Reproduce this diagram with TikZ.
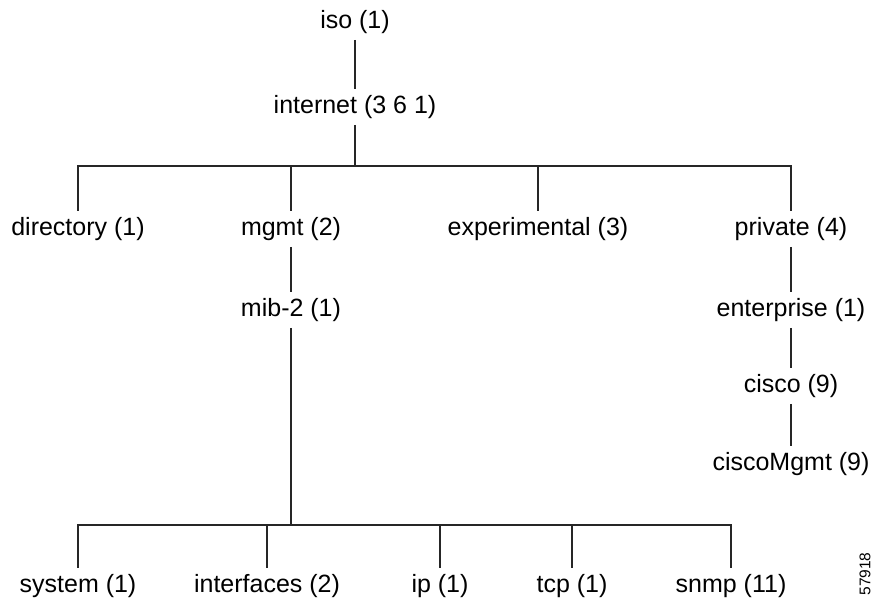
\documentclass[tikz,border=0pt]{standalone}
\usepackage{fontspec}
\setmainfont{Liberation Sans}
\usepackage{tikz}
\usetikzlibrary{positioning}
\tikzstyle{oid} = [font=\fontsize{25}{30}\selectfont, inner xsep=0pt, inner ysep=6pt]
\tikzstyle{branch} = [line width=1.1pt, color=black!85]
\tikzstyle{fig} = [font=\fontsize{15.5}{18}\selectfont, rotate=90, inner sep=0pt]

\begin{document}
\begin{tikzpicture}[x=1pt, y=-1pt]
\useasboundingbox (0,0) rectangle (875,599);

% Top of the tree
\node[oid] (iso) at (355,22) {iso (1)};
\node[oid] (inet) at (355,107) {internet (3 6 1)};

% Second level
\node[oid] (dir) at (78,229) {directory (1)};
\node[oid] (mgmt) at (291,229) {mgmt (2)};
\node[oid] (exp) at (538,229) {experimental (3)};
\node[oid] (priv) at (791,229) {private (4)};

% mgmt branch
\node[oid] (mib) at (291,310) {mib-2 (1)};

% private branch
\node[oid] (ent) at (791,310) {enterprise (1)};
\node[oid] (cisco) at (791,386) {cisco (9)};
\node[oid] (cmgmt) at (791,464) {ciscoMgmt (9)};

% mib-2 groups
\node[oid] (sys) at (78,586) {system (1)};
\node[oid] (ifc) at (267,586) {interfaces (2)};
\node[oid] (ip) at (440,586) {ip (1)};
\node[oid] (tcp) at (572,586) {tcp (1)};
\node[oid] (snmp) at (731,586) {snmp (11)};

\node[fig] (num) at (865,574) {57918};

% Bars
\coordinate (bar1) at (355,166);
\coordinate (bar2) at (291,525);

% Connectors
\draw[branch] (iso) -- (inet);
\draw[branch] (inet) -- (bar1);
\foreach \n in {dir,mgmt,exp,priv}
  \draw[branch] (bar1) -| (\n);
\draw[branch] (mgmt) -- (mib);
\draw[branch] (mib) -- (bar2);
\foreach \n in {sys,ifc,ip,tcp,snmp}
  \draw[branch] (bar2) -| (\n);
\draw[branch] (priv) -- (ent);
\draw[branch] (ent) -- (cisco);
\draw[branch] (cisco) -- (cmgmt);
\end{tikzpicture}
\end{document}
